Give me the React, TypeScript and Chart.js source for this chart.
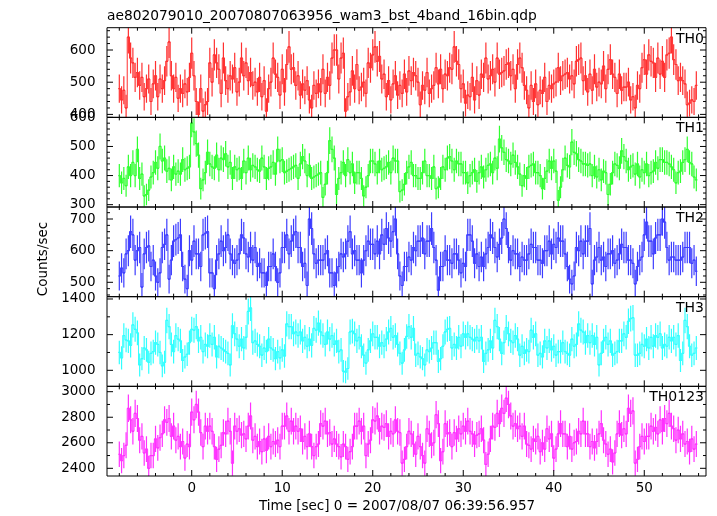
import { useEffect, useRef } from "react";
import { Chart, registerables } from "chart.js";
Chart.register(...registerables);

const titleText = "ae802079010_20070807063956_wam3_bst_4band_16bin.qdp";
const xAxisTitle = "Time [sec] 0 = 2007/08/07 06:39:56.957";
const yAxisTitle = "Counts/sec";
const panelLabels = ["TH0", "TH1", "TH2", "TH3", "TH0123"];
const panelColors = ["#ff3030", "#30ff30", "#3c3cff", "#30ffff", "#ff30ff"];
const xTickLabels = [0, 10, 20, 30, 40, 50];

const binStart = -8.0;
const binWidth = 0.25;

const th0 = [
  480, 445, 475, 420, 640, 575, 560, 515, 530, 490, 515, 455, 480, 510, 440, 495,
  520, 455, 510, 480, 505, 565, 625, 520, 480, 515, 450, 480, 465, 495, 470, 515,
  590, 520, 440, 400, 480, 410, 430, 440, 560, 500, 585, 560, 540, 465, 575, 505,
  480, 520, 510, 545, 470, 500, 575, 520, 560, 505, 530, 490, 500, 470, 515, 455,
  505, 410, 480, 500, 575, 525, 515, 460, 540, 470, 555, 610, 540, 545, 490, 520,
  460, 495, 475, 505, 445, 420, 490, 465, 495, 470, 540, 465, 515, 490, 575, 600,
  600, 510, 575, 590, 410, 455, 470, 535, 480, 555, 475, 485, 500, 465, 560, 545,
  585, 610, 565, 580, 510, 525, 455, 505, 445, 495, 520, 460, 490, 465, 525, 470,
  535, 505, 530, 520, 500, 430, 490, 475, 530, 465, 480, 490, 545, 495, 540, 480,
  525, 520, 545, 540, 610, 565, 555, 480, 495, 435, 460, 455, 515, 445, 505, 460,
  525, 515, 575, 510, 520, 540, 500, 575, 525, 530, 535, 555, 560, 520, 540, 480,
  555, 575, 545, 490, 475, 420, 490, 440, 495, 430, 475, 465, 515, 440, 490, 480,
  495, 500, 545, 505, 520, 525, 530, 510, 520, 495, 565, 570, 575, 505, 520, 470,
  525, 475, 540, 485, 500, 495, 550, 480, 540, 570, 525, 515, 465, 525, 475, 485,
  485, 500, 445, 455, 420, 490, 480, 545, 570, 525, 585, 565, 560, 515, 575, 525,
  565, 515, 585, 590, 640, 570, 555, 505, 515, 505, 495, 430, 435, 445, 440, 490,
];

const th1 = [
  400, 375, 390, 365, 430, 400, 445, 400, 490, 390, 405, 330, 335, 350, 395, 410,
  445, 425, 500, 450, 460, 415, 425, 385, 430, 405, 415, 405, 455, 420, 425, 430,
  580, 550, 510, 470, 355, 385, 410, 480, 440, 430, 425, 470, 420, 460, 455, 475,
  430, 445, 390, 430, 420, 425, 390, 450, 410, 460, 420, 435, 430, 420, 415, 460,
  430, 390, 425, 430, 445, 405, 490, 450, 455, 410, 415, 420, 425, 430, 435, 390,
  440, 465, 450, 400, 435, 390, 395, 400, 405, 410, 325, 370, 410, 520, 490, 460,
  335, 390, 410, 445, 400, 455, 410, 440, 375, 410, 410, 390, 330, 360, 400, 450,
  450, 440, 410, 450, 420, 425, 430, 445, 410, 460, 450, 450, 345, 350, 370, 410,
  430, 445, 400, 400, 390, 390, 410, 450, 400, 400, 390, 430, 355, 360, 390, 430,
  420, 460, 465, 450, 420, 450, 440, 440, 410, 410, 375, 400, 410, 420, 380, 410,
  430, 395, 420, 435, 440, 410, 460, 425, 525, 495, 480, 455, 450, 440, 470, 445,
  430, 405, 365, 400, 390, 430, 435, 440, 410, 410, 400, 355, 390, 415, 450, 425,
  450, 415, 315, 360, 420, 460, 435, 430, 515, 480, 475, 455, 450, 440, 440, 435,
  440, 400, 430, 395, 420, 385, 415, 410, 335, 370, 410, 440, 435, 425, 485, 465,
  450, 420, 430, 435, 405, 440, 395, 420, 410, 440, 400, 410, 415, 445, 425, 455,
  455, 445, 445, 440, 430, 420, 375, 410, 415, 445, 455, 490, 445, 440, 395, 385,
];

const th2 = [
  520, 545, 530, 590, 600, 660, 650, 570, 600, 610, 485, 590, 610, 615, 550, 570,
  520, 500, 530, 610, 620, 650, 510, 570, 630, 635, 640, 650, 550, 510, 480, 600,
  570, 630, 590, 590, 550, 650, 655, 660, 530, 530, 480, 570, 590, 630, 600, 610,
  650, 590, 570, 560, 570, 590, 650, 640, 590, 580, 610, 570, 610, 550, 560, 530,
  530, 490, 550, 550, 590, 550, 500, 530, 610, 610, 650, 590, 630, 650, 660, 610,
  610, 550, 560, 490, 700, 670, 590, 560, 570, 570, 570, 590, 600, 530, 530, 490,
  530, 550, 590, 580, 590, 630, 660, 590, 600, 570, 570, 530, 570, 600, 630, 620,
  620, 590, 630, 590, 650, 620, 670, 640, 630, 660, 700, 590, 520, 490, 550, 550,
  580, 570, 610, 600, 630, 630, 640, 590, 630, 630, 670, 610, 570, 475, 550, 550,
  600, 570, 570, 560, 590, 590, 570, 530, 560, 550, 650, 650, 630, 560, 590, 550,
  580, 550, 590, 610, 650, 640, 610, 580, 620, 640, 700, 670, 610, 570, 600, 590,
  590, 550, 580, 570, 570, 590, 620, 610, 610, 570, 570, 560, 600, 600, 630, 590,
  620, 610, 640, 630, 630, 590, 550, 510, 495, 520, 610, 600, 630, 590, 630, 630,
  670, 495, 570, 580, 610, 570, 580, 550, 590, 590, 600, 560, 570, 590, 620, 610,
  610, 570, 570, 560, 495, 550, 570, 580, 650, 690, 630, 630, 590, 640, 650, 650,
  700, 690, 610, 570, 580, 580, 570, 570, 570, 580, 610, 610, 610, 560, 570, 535,
];

const th3 = [
  1100, 1070, 1195, 1170, 1165, 1140, 1255, 1230, 1210, 1030, 1065, 1125, 1115, 1045, 1095, 1105,
  1155, 1145, 1100, 1025, 1045, 1280, 1245, 1145, 1105, 1195, 1175, 1165, 1055, 1075, 1090, 1155,
  1230, 1225, 1245, 1165, 1185, 1105, 1145, 1135, 1195, 1145, 1185, 1075, 1135, 1125, 1115, 1105,
  1095, 1030, 1250, 1205, 1175, 1135, 1175, 1125, 1185, 1330, 1350, 1155, 1165, 1145, 1135, 1085,
  1125, 1105, 1175, 1125, 1115, 1065, 1105, 1070, 1115, 1080, 1260, 1245, 1245, 1205, 1215, 1195,
  1215, 1165, 1185, 1135, 1175, 1140, 1235, 1225, 1265, 1215, 1195, 1145, 1215, 1175, 1195, 1145,
  1165, 1105, 1115, 995, 990, 1010, 1215, 1220, 1205, 1165, 1185, 1135, 1085, 1040, 1115, 1165,
  1205, 1185, 1185, 1135, 1155, 1135, 1175, 1215, 1235, 1185, 1195, 1145, 1095, 1040, 1115, 1190,
  1245, 1185, 1235, 1085, 1095, 1075, 1065, 1030, 1115, 1105, 1125, 1155, 1155, 1050, 1065, 1135,
  1215, 1230, 1235, 1125, 1145, 1125, 1185, 1135, 1205, 1185, 1205, 1185, 1175, 1165, 1185, 1165,
  1185, 1050, 1095, 1115, 1165, 1125, 1280, 1245, 1175, 1095, 1155, 1240, 1205, 1165, 1155, 1195,
  1175, 1085, 1135, 1095, 1115, 1105, 1225, 1185, 1205, 1085, 1095, 1075, 1165, 1125, 1165, 1115,
  1135, 1085, 1105, 1105, 1155, 1105, 1095, 1085, 1175, 1135, 1145, 1260, 1225, 1215, 1155, 1195,
  1155, 1195, 1145, 1185, 1030, 1095, 1165, 1185, 1145, 1165, 1085, 1095, 1105, 1165, 1165, 1205,
  1185, 1275, 1290, 1295, 1085, 1085, 1095, 1145, 1135, 1175, 1125, 1185, 1135, 1195, 1185, 1205,
  1125, 1145, 1135, 1185, 1165, 1185, 1145, 1195, 1055, 1095, 1280, 1245, 1135, 1085, 1095, 1125,
];

const th0123 = [
  2510, 2460, 2500, 2580, 2870, 2780, 2690, 2830, 2790, 2620, 2650, 2520, 2550, 2400, 2500, 2500,
  2630, 2560, 2640, 2670, 2780, 2760, 2790, 2650, 2730, 2620, 2650, 2570, 2610, 2480, 2590, 2570,
  2840, 2780, 2900, 2840, 2680, 2570, 2730, 2690, 2730, 2690, 2570, 2470, 2550, 2580, 2680, 2670,
  2770, 2690, 2440, 2730, 2690, 2710, 2660, 2670, 2630, 2730, 2810, 2620, 2650, 2570, 2610, 2530,
  2630, 2540, 2650, 2570, 2610, 2590, 2620, 2570, 2730, 2730, 2810, 2690, 2770, 2690, 2730, 2690,
  2710, 2610, 2650, 2570, 2670, 2570, 2500, 2570, 2590, 2750, 2730, 2770, 2670, 2680, 2590, 2630,
  2590, 2570, 2490, 2590, 2570, 2470, 2530, 2570, 2730, 2730, 2770, 2690, 2730, 2500, 2590, 2620,
  2780, 2770, 2810, 2690, 2730, 2720, 2750, 2650, 2690, 2670, 2780, 2690, 2680, 2440, 2470, 2570,
  2690, 2670, 2590, 2510, 2650, 2570, 2500, 2440, 2710, 2670, 2580, 2600, 2820, 2750, 2460, 2530,
  2750, 2670, 2680, 2570, 2680, 2630, 2710, 2670, 2730, 2690, 2770, 2690, 2670, 2590, 2660, 2670,
  2710, 2620, 2430, 2510, 2630, 2730, 2720, 2830, 2750, 2870, 2830, 2950, 2900, 2810, 2730, 2750,
  2710, 2730, 2650, 2730, 2590, 2580, 2550, 2630, 2610, 2650, 2530, 2600, 2550, 2710, 2630, 2670,
  2480, 2550, 2670, 2750, 2670, 2670, 2570, 2650, 2550, 2600, 2610, 2690, 2670, 2770, 2670, 2670,
  2570, 2610, 2560, 2610, 2670, 2750, 2620, 2590, 2510, 2550, 2450, 2520, 2670, 2750, 2660, 2710,
  2670, 2870, 2830, 2850, 2440, 2470, 2570, 2650, 2610, 2650, 2650, 2730, 2690, 2720, 2670, 2780,
  2690, 2790, 2750, 2830, 2730, 2710, 2620, 2700, 2630, 2670, 2590, 2610, 2530, 2630, 2550, 2590,
];

const panelSeries = [th0, th1, th2, th3, th0123];
const yMins = [390.8, 291.9, 454.6, 910, 2339.7];
const yMaxs = [669.3, 600, 737.9, 1413, 3042];
const yMajorSteps = [100, 100, 100, 200, 200];
const yMinorSteps = [20, 20, 20, 100, 100];
const xMin = -9.36;
const xMax = 56.82;
const xMajorStep = 10;
const xMinorStep = 2;

const FONT = "'DejaVu Sans', sans-serif";
const panelIds = ["p0", "p1", "p2", "p3", "p4"];

const qdpPlugin = {
  id: "qdpPanels",
  afterDatasetsDraw(chart: any) {
    const ctx = chart.ctx as CanvasRenderingContext2D;
    const xs = chart.scales.x;
    const half = binWidth / 2;
    chart.data.datasets.forEach((ds: any, k: number) => {
      const ys = chart.scales[panelIds[k]];
      ctx.save();
      ctx.beginPath();
      ctx.rect(xs.left, ys.top, xs.right - xs.left, ys.bottom - ys.top);
      ctx.clip();
      ctx.strokeStyle = ds.borderColor;
      ctx.lineWidth = 1.2;
      ctx.beginPath();
      ds.data.forEach((p: any) => {
        const px = xs.getPixelForValue(p.x);
        const x0 = xs.getPixelForValue(p.x - half);
        const x1 = xs.getPixelForValue(p.x + half);
        const py = ys.getPixelForValue(p.y);
        const e0 = ys.getPixelForValue(p.y - p.err);
        const e1 = ys.getPixelForValue(p.y + p.err);
        ctx.moveTo(x0, py);
        ctx.lineTo(x1, py);
        ctx.moveTo(px, e0);
        ctx.lineTo(px, e1);
      });
      ctx.stroke();
      ctx.restore();
    });
    ctx.save();
    ctx.strokeStyle = "#000";
    ctx.lineWidth = 1;
    panelIds.forEach((id, k) => {
      const ys = chart.scales[id];
      const L = xs.left, R = xs.right, T = ys.top, B = ys.bottom;
      ctx.beginPath();
      ctx.rect(L, T, R - L, B - T);
      ctx.stroke();
      ctx.beginPath();
      const minor = yMinorSteps[k];
      const major = yMajorSteps[k];
      for (let v = Math.ceil(yMins[k] / minor) * minor; v <= yMaxs[k] + 1e-6; v += minor) {
        const py = ys.getPixelForValue(v);
        const len = Math.abs(v % major) < 1e-6 ? 6 : 3;
        ctx.moveTo(L, py);
        ctx.lineTo(L + len, py);
        ctx.moveTo(R, py);
        ctx.lineTo(R - len, py);
      }
      for (let t = Math.ceil(xMin / xMinorStep) * xMinorStep; t <= xMax; t += xMinorStep) {
        const px = xs.getPixelForValue(t);
        const len = Math.abs(t % xMajorStep) < 1e-6 ? 6 : 3;
        ctx.moveTo(px, T);
        ctx.lineTo(px, T + len);
        ctx.moveTo(px, B);
        ctx.lineTo(px, B - len);
      }
      ctx.stroke();
      ctx.fillStyle = "#000";
      ctx.font = `14px ${FONT}`;
      ctx.textAlign = "right";
      ctx.textBaseline = "alphabetic";
      ctx.fillText(panelLabels[k], R - 2, T + 15);
    });
    ctx.fillStyle = "#000";
    ctx.font = `13.5px ${FONT}`;
    ctx.textAlign = "center";
    ctx.textBaseline = "alphabetic";
    ctx.fillText(xAxisTitle, 397, 510.3);
    ctx.translate(46.5, 259);
    ctx.rotate(-Math.PI / 2);
    ctx.fillText(yAxisTitle, 0, 0);
    ctx.restore();
  },
};

export default function App() {
  const ref = useRef<HTMLCanvasElement | null>(null);
  useEffect(() => {
    if (!ref.current) return;
    const datasets = panelSeries.map((vals, k) => ({
      label: panelLabels[k],
      yAxisID: panelIds[k],
      borderColor: panelColors[k],
      backgroundColor: panelColors[k],
      borderWidth: 1,
      showLine: true,
      stepped: "middle",
      pointRadius: 0,
      data: vals.map((v, i) => ({
        x: binStart + i * binWidth,
        y: v,
        err: Math.sqrt(v * binWidth) / binWidth,
      })),
    }));
    const scales: any = {
      x: {
        type: "linear",
        position: "bottom",
        min: xMin,
        max: xMax,
        grid: { display: false, drawTicks: false },
        border: { display: false },
        afterBuildTicks: (s: any) => {
          s.ticks = xTickLabels.map((v) => ({ value: v }));
        },
        ticks: {
          autoSkip: false,
          maxRotation: 0,
          padding: 4,
          color: "#000",
          font: { family: FONT, size: 13.5 },
          callback: (v: any) => String(v),
        },
        afterFit: (s: any) => {
          s.height = 40;
        },
      },
    };
    for (let k = panelIds.length - 1; k >= 0; k--) {
      const major = yMajorSteps[k];
      const lo = yMins[k];
      const hi = yMaxs[k];
      scales[panelIds[k]] = {
        type: "linear",
        position: "left",
        stack: "panels",
        stackWeight: 1,
        min: lo,
        max: hi,
        grid: { display: false, drawTicks: false },
        border: { display: false },
        afterBuildTicks: (s: any) => {
          const list: any[] = [];
          for (let v = Math.ceil(lo / major) * major; v <= hi + 1e-6; v += major) list.push({ value: v });
          s.ticks = list;
        },
        ticks: {
          autoSkip: false,
          padding: 11.5,
          color: "#000",
          font: { family: FONT, size: 13.5 },
          callback: (v: any) => String(Math.round(v)),
        },
        afterFit: (s: any) => {
          s.width = 107;
        },
      };
    }
    const chart = new Chart(ref.current, {
      type: "scatter",
      data: { datasets },
      options: {
        animation: false,
        responsive: false,
        devicePixelRatio: 1,
        events: [],
        layout: { padding: { left: 0, right: 11, top: 0, bottom: 0 } },
        plugins: {
          legend: { display: false },
          tooltip: { enabled: false },
          title: {
            display: true,
            text: titleText,
            align: "start",
            fullSize: false,
            color: "#000",
            font: { family: FONT, size: 13.8, weight: "normal" },
            padding: { top: 8, bottom: 3.14 },
          },
        },
        scales,
      },
      plugins: [qdpPlugin],
    });
    return () => chart.destroy();
  }, []);
  return (
    <div style={{ position: "absolute", left: 0, top: 0, width: 717, height: 516, background: "#fff" }}>
      <canvas ref={ref} width={717} height={516} style={{ display: "block" }} />
    </div>
  );
}
